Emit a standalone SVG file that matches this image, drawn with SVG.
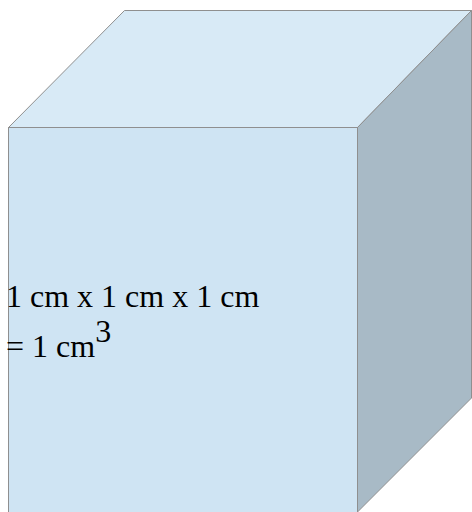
<svg xmlns="http://www.w3.org/2000/svg" width="472" height="512" viewBox="0 0 472 512">
<style>
.face{stroke:#8f8f8f;stroke-width:1}
.lbl{font-family:"Liberation Serif","Times New Roman",serif;font-size:32px;fill:#000}
</style>
<g id="cube">
<polygon class="face" points="8.5,127.5 124.5,10.5 471.5,10.5 357.5,127.5" fill="#d8eaf6"/>
<polygon class="face" points="357.5,127.5 471.5,10.5 471.5,398 357.5,512" fill="#a8bac6"/>
<rect class="face" x="8.5" y="127.5" width="349" height="390" fill="#cfe4f3"/>
</g>
<g id="label">
<text class="lbl" x="6" y="307">1 cm x 1 cm x 1 cm</text>
<text class="lbl" x="6" y="357">= 1 cm<tspan dy="-15">3</tspan></text>
</g>
</svg>
